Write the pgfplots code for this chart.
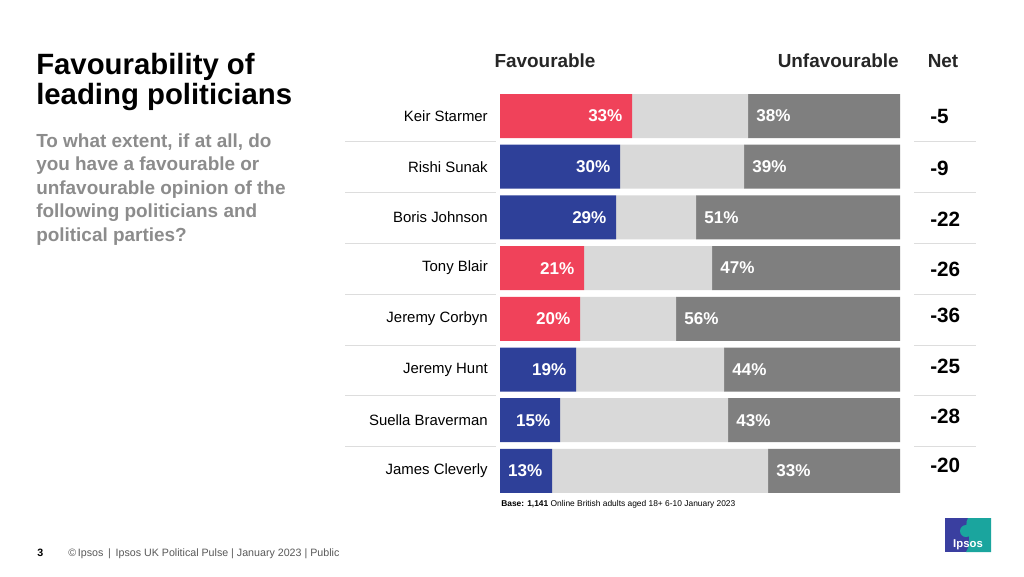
\documentclass[border=0pt]{standalone}
\usepackage{fontspec}
\setmainfont{Liberation Sans}
\usepackage{pgfplots}
\usepackage{pgfplotstable}
\pgfplotsset{compat=1.18}
\definecolor{labred}{HTML}{F0425A}
\definecolor{conblue}{HTML}{2E4099}
\definecolor{midgrey}{HTML}{D9D9D9}
\definecolor{darkgrey}{HTML}{7F7F7F}
\definecolor{qgrey}{HTML}{8C8C8C}
\definecolor{sepgrey}{HTML}{DDDDDD}
\definecolor{ipblue}{HTML}{3A3FA0}
\definecolor{ipteal}{HTML}{1AA59E}

% favR: favourable (Labour, red); favB: favourable (Conservative, blue)
\pgfplotstableread{
idx favR favB mid unf ny net
0 33 0 29 38 0.00 -5
1 0 30 31 39 1.04 -9
2 0 29 20 51 2.03 -22
3 21 0 32 47 3.02 -26
4 20 0 24 56 3.94 -36
5 0 19 37 44 4.93 -25
6 0 15 42 43 5.92 -28
7 0 13 54 33 6.90 -20
}\datatable

\begin{document}
\begin{tikzpicture}
\begin{scope}[x=0.75pt,y=-0.75pt]
\fill[white] (0,0) rectangle (1024,576);
% title
\node[anchor=base west,inner sep=0pt,font=\fontsize{22}{24}\selectfont\bfseries] at (36,74) {Favourability of};
\node[anchor=base west,inner sep=0pt,font=\fontsize{22}{24}\selectfont\bfseries] at (36,104) {leading politicians};
% question
\begin{scope}[every node/.style={anchor=base west,inner sep=0pt,text=qgrey,font=\fontsize{14.2}{17}\selectfont\bfseries}]
\node at (36,147) {To what extent, if at all, do};
\node at (36,170.5) {you have a favourable or};
\node at (36,194) {unfavourable opinion of the};
\node at (36,217.5) {following politicians and};
\node at (36,241) {political parties?};
\end{scope}
% headers
\node[anchor=base,inner sep=0pt,text=black!85,font=\fontsize{14.2}{16}\selectfont\bfseries] at (545,67) {Favourable};
\node[anchor=base east,inner sep=0pt,text=black!85,font=\fontsize{14.2}{16}\selectfont\bfseries] at (899,67) {Unfavourable};
\node[anchor=base,inner sep=0pt,text=black!85,font=\fontsize{14.2}{16}\selectfont\bfseries] at (943,67) {Net};
% separators
\foreach \yy in {141,192,243,294,345,395,446} {
  \draw[sepgrey,line width=0.75pt] (345,\yy) -- (496,\yy);
  \draw[sepgrey,line width=0.75pt] (914,\yy) -- (976,\yy);
}
% base note
\node[anchor=base west,inner sep=0pt,font=\fontsize{6.3}{7}\selectfont] at (501,506) {\textbf{Base: 1,141} Online British adults aged 18+ 6-10 January 2023};
% footer
\node[anchor=base west,inner sep=0pt,font=\fontsize{8}{9}\selectfont\bfseries] at (37,556) {3};
\node[anchor=base west,inner sep=0pt,text=black!65,font=\fontsize{8}{9}\selectfont] at (68,556) {\textcopyright\,Ipsos \,|\, Ipsos UK Political Pulse | January 2023 | Public};
% logo
\fill[ipblue] (945,518) rectangle (991,552);
\fill[ipteal] (968,518) .. controls (962,528) and (975,536) .. (966,552) -- (991,552) -- (991,518) -- cycle;
\fill[ipteal] (966,531) circle (6);
\node[inner sep=0pt,text=white,font=\fontsize{8.5}{10}\selectfont\bfseries] at (968,545) {Ipsos};
\end{scope}
\begin{axis}[
  at={(375pt,-67.99pt)}, anchor=north west,
  scale only axis, width=300pt, height=304.2pt,
  xbar stacked, bar width=33pt,
  xmin=0, xmax=100, ymin=-0.5, ymax=7.5, y dir=reverse,
  axis line style={draw=none}, major tick length=0pt,
  xtick=\empty, ytick={0,...,7},
  yticklabels={Keir Starmer,Rishi Sunak,Boris Johnson,Tony Blair,Jeremy Corbyn,Jeremy Hunt,Suella Braverman,James Cleverly},
  yticklabel style={anchor=east,inner sep=0pt,xshift=-9pt,font=\fontsize{11.2}{13}\selectfont},
  clip=false,
]
\addplot[fill=labred,draw=none] table[x=favR,y=idx]{\datatable};
\addplot[fill=conblue,draw=none] table[x=favB,y=idx]{\datatable};
\addplot[fill=midgrey,draw=none] table[x=mid,y=idx]{\datatable};
\addplot[fill=darkgrey,draw=none] table[x=unf,y=idx]{\datatable};
\end{axis}
\begin{axis}[
  at={(375pt,-67.99pt)}, anchor=north west,
  scale only axis, width=300pt, height=304.2pt,
  xmin=0, xmax=100, ymin=-0.5, ymax=7.5, y dir=reverse,
  hide axis, clip=false,
  /pgf/number format/assume math mode=true,
  lbl/.style={draw=none,mark=none,nodes near coords,point meta=explicit,
    every node near coord/.append style={inner sep=0pt,text=white,font=\fontsize{12.8}{14}\selectfont\bfseries}},
]
% favourable labels at end of favourable bar
\addplot[lbl,nodes near coords={\pgfmathprintnumber{\pgfplotspointmeta}\%},
  every node near coord/.append style={anchor=east,xshift=-7pt}]
  table[x expr=\thisrow{favR}+\thisrow{favB},y=idx,meta expr=\thisrow{favR}+\thisrow{favB}]{\datatable};
% unfavourable labels at start of unfavourable bar
\addplot[lbl,nodes near coords={\pgfmathprintnumber{\pgfplotspointmeta}\%},
  every node near coord/.append style={anchor=west,xshift=6pt}]
  table[x expr=100-\thisrow{unf},y=idx,meta=unf]{\datatable};
% net
\addplot[draw=none,mark=none,nodes near coords,point meta=explicit symbolic,
  every node near coord/.append style={anchor=west,inner sep=0pt,text=black,font=\fontsize{15.5}{17}\selectfont\bfseries}]
  table[x expr=107.5,y=ny,meta=net]{\datatable};
\end{axis}
\end{tikzpicture}
\end{document}
